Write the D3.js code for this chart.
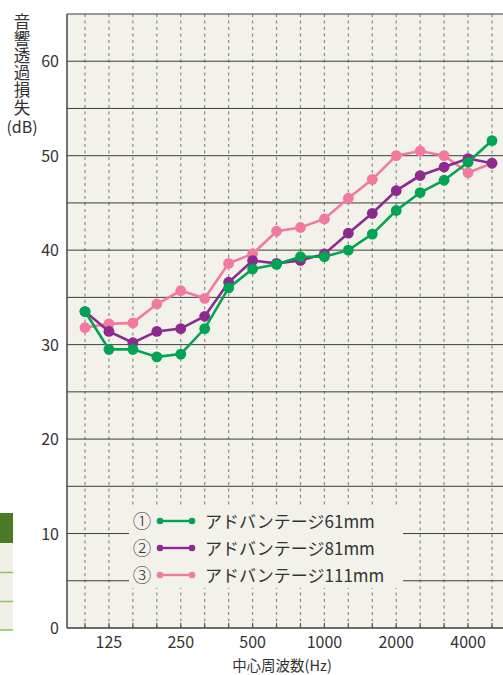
<!DOCTYPE html>
<html>
<head>
<meta charset="utf-8">
<script src="https://cdn.jsdelivr.net/npm/d3@7"></script>
<style>
  body { margin: 0; background: #fff; }
  svg { display: block; }
  text { font-family: "Noto Sans CJK JP", "Noto Sans", sans-serif; fill: #333; }
</style>
</head>
<body>
<svg id="chart" width="503" height="675"></svg>
<script>
// 1/3オクターブ帯域 (Hz)
var bands = ["100","125","160","200","250","315","400","500","630","800","1000","1250","1600","2000","2500","3150","4000","5000"]
var tickBands = ["125","250","500","1000","2000","4000"]
var yTicks = [0, 10, 20, 30, 40, 50, 60]

var names = ["アドバンテージ61mm", "アドバンテージ81mm", "アドバンテージ111mm"]
var marks = ["①", "②", "③"]
var colors = ["#00a452", "#8c2a8f", "#f27aa0"]

var adv61  = [33.5, 29.5, 29.5, 28.7, 29.0, 31.7, 36.0, 38.0, 38.5, 39.3, 39.3, 40.0, 41.7, 44.2, 46.1, 47.4, 49.3, 51.6]
var adv81  = [33.5, 31.4, 30.2, 31.4, 31.7, 33.0, 36.6, 38.9, 38.6, 38.9, 39.6, 41.8, 43.9, 46.3, 47.9, 48.8, 49.7, 49.2]
var adv111 = [31.8, 32.2, 32.3, 34.3, 35.7, 34.9, 38.6, 39.6, 42.0, 42.4, 43.3, 45.5, 47.5, 50.0, 50.5, 50.0, 48.2, 49.2]
var series = [adv61, adv81, adv111]

var plot = { left: 67, top: 14, right: 520, bottom: 628 }

var svg = d3.select("#chart")

// 左側に切れて見える表の一部
svg.append("rect").attr("x", 0).attr("y", 543).attr("width", 13).attr("height", 87).attr("fill", "#f1f0e8")
svg.append("rect").attr("x", 0).attr("y", 513).attr("width", 13).attr("height", 30).attr("fill", "#4b7a25")
;[572.5, 601.5, 630].forEach(function(y){
    svg.append("line").attr("x1", 0).attr("x2", 13).attr("y1", y).attr("y2", y)
        .attr("stroke", "#8dc65a").attr("stroke-width", 1.5)
})

var x = d3.scalePoint()
    .domain(bands)
    .range([85, 492])

var y = d3.scaleLinear()
    .domain([0, 65])
    .range([plot.bottom, plot.top])

svg.append("rect")
    .attr("x", plot.left).attr("y", plot.top)
    .attr("width", plot.right - plot.left).attr("height", plot.bottom - plot.top)
    .attr("fill", "#f2f1ea")

// 縦の破線
svg.append("g").selectAll("line")
    .data(bands)
    .enter()
    .append("line")
        .attr("x1", function(d){ return x(d) })
        .attr("x2", function(d){ return x(d) })
        .attr("y1", plot.top)
        .attr("y2", plot.bottom)
        .attr("stroke", "#8a8a86")
        .attr("stroke-width", 1.2)
        .attr("stroke-dasharray", "3,3.5")

// 凡例の背景 (線を隠す)
var legend = { x: 129, y: 507, w: 274, h: 81 }
svg.append("rect")
    .attr("x", legend.x).attr("y", legend.y)
    .attr("width", legend.w).attr("height", legend.h)
    .attr("fill", "#f2f1ea")

// 横の実線 5dBごと
var hLines = d3.range(5, 65, 5)
function inLegend(d){ return y(d) > legend.y && y(d) < legend.y + legend.h }
svg.append("g").selectAll("line")
    .data(hLines)
    .enter()
    .append("line")
        .attr("x1", plot.left)
        .attr("x2", function(d){ return inLegend(d) ? legend.x : plot.right })
        .attr("y1", function(d){ return y(d) })
        .attr("y2", function(d){ return y(d) })
        .attr("stroke", "#3d3d3a")
        .attr("stroke-width", 1)
svg.append("g").selectAll("line")
    .data(hLines.filter(inLegend))
    .enter()
    .append("line")
        .attr("x1", legend.x + legend.w)
        .attr("x2", plot.right)
        .attr("y1", function(d){ return y(d) })
        .attr("y2", function(d){ return y(d) })
        .attr("stroke", "#3d3d3a")
        .attr("stroke-width", 1)

// 枠
svg.append("line").attr("x1", plot.left).attr("x2", plot.right).attr("y1", plot.top).attr("y2", plot.top)
    .attr("stroke", "#3d3d3a").attr("stroke-width", 1.2)
svg.append("line").attr("x1", plot.left).attr("x2", plot.left).attr("y1", plot.top).attr("y2", plot.bottom)
    .attr("stroke", "#3d3d3a").attr("stroke-width", 1.4)
svg.append("line").attr("x1", plot.left).attr("x2", plot.right).attr("y1", plot.bottom).attr("y2", plot.bottom)
    .attr("stroke", "#3d3d3a").attr("stroke-width", 1.4)

// 下端の目盛り
svg.append("g").selectAll("line")
    .data(bands)
    .enter()
    .append("line")
        .attr("x1", function(d){ return x(d) })
        .attr("x2", function(d){ return x(d) })
        .attr("y1", plot.bottom - 5)
        .attr("y2", plot.bottom)
        .attr("stroke", "#555")
        .attr("stroke-width", 1.2)

// 目盛りラベル
svg.append("g").selectAll("text")
    .data(yTicks)
    .enter()
    .append("text")
        .attr("x", 59)
        .attr("y", function(d){ return y(d) + 6 })
        .attr("text-anchor", "end")
        .style("font-size", "16px")
        .text(function(d){ return d })

svg.append("g").selectAll("text")
    .data(tickBands)
    .enter()
    .append("text")
        .attr("x", function(d){ return x(d) })
        .attr("y", 648)
        .attr("text-anchor", "middle")
        .style("font-size", "16px")
        .text(function(d){ return d })

svg.append("text")
    .attr("x", 282).attr("y", 671)
    .attr("text-anchor", "middle")
    .style("font-size", "14.5px")
    .text("中心周波数(Hz)")

// 縦書きの軸タイトル
svg.append("text")
    .attr("x", 22).attr("y", 13)
    .style("writing-mode", "vertical-rl")
    .style("font-size", "16.5px")
    .style("letter-spacing", "0.7px")
    .text("音響透過損失")
svg.append("text")
    .attr("x", 22).attr("y", 133)
    .attr("text-anchor", "middle")
    .style("font-size", "16px")
    .text("(dB)")

// 折れ線
var line = d3.line()
    .x(function(d, i){ return x(bands[i]) })
    .y(function(d){ return y(d) })

// 111mm → 81mm → 61mm の順で描画
;[2, 1, 0].forEach(function(k){
    var g = svg.append("g")
    g.append("path")
        .datum(series[k])
        .attr("d", line)
        .attr("fill", "none")
        .attr("stroke", colors[k])
        .attr("stroke-width", 2.6)
    g.selectAll("circle")
        .data(series[k])
        .enter()
        .append("circle")
            .attr("cx", function(d, i){ return x(bands[i]) })
            .attr("cy", function(d){ return y(d) })
            .attr("r", 5.4)
            .attr("fill", colors[k])
})

// 凡例
var rowY = [521, 548, 575]
names.forEach(function(n, i){
    var g = svg.append("g").attr("transform", "translate(0," + rowY[i] + ")")
    g.append("text").attr("x", 142).attr("y", 7).attr("text-anchor", "middle")
        .style("font-size", "18.5px").style("font-weight", "300").text(marks[i])
    g.append("line").attr("x1", 160).attr("x2", 192).attr("y1", 0).attr("y2", 0)
        .attr("stroke", colors[i]).attr("stroke-width", 2.4)
    g.append("circle").attr("cx", 160).attr("cy", 0).attr("r", 3.3).attr("fill", colors[i])
    g.append("circle").attr("cx", 192).attr("cy", 0).attr("r", 3.3).attr("fill", colors[i])
    g.append("text").attr("x", 205).attr("y", 6.5)
        .style("font-size", "17px").text(n)
})
</script>
</body>
</html>
